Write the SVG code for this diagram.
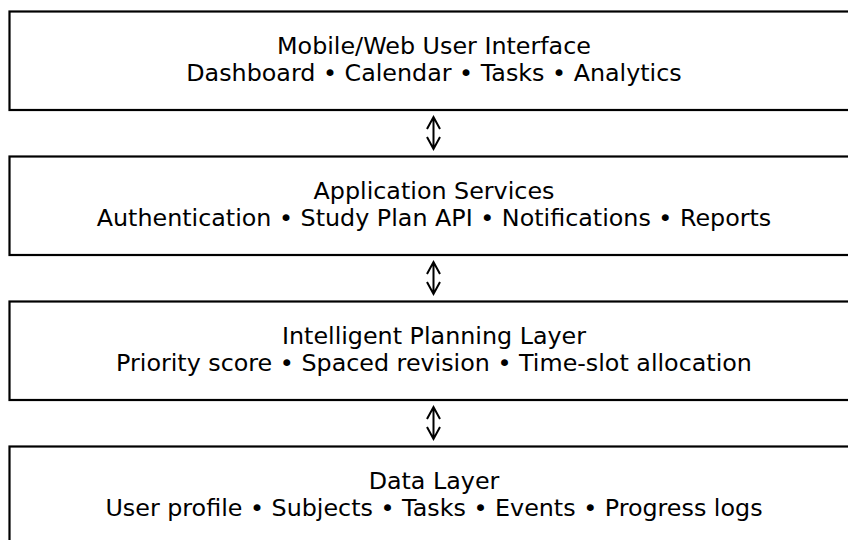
<svg xmlns="http://www.w3.org/2000/svg" width="848" height="540" viewBox="0 0 848 540">
<style>
.box{fill:#fff;stroke:#000;stroke-width:2.2}
.t{font-family:"DejaVu Sans",sans-serif;font-size:23.8px;fill:#000;text-anchor:middle}
.c{fill:none;stroke:#000;stroke-width:2;stroke-linejoin:miter}
</style>
<rect width="848" height="540" fill="#fff"/>
<g id="ui">
<rect class="box" x="9.5" y="11.5" width="860" height="98.5"/>
<text class="t" x="434" y="54">Mobile/Web User Interface</text>
<text class="t" x="434" y="81">Dashboard • Calendar • Tasks • Analytics</text>
</g>
<g id="services">
<rect class="box" x="9.5" y="156.5" width="860" height="98.5"/>
<text class="t" x="434" y="199">Application Services</text>
<text class="t" x="434" y="226">Authentication • Study Plan API • Notifications • Reports</text>
</g>
<g id="planning">
<rect class="box" x="9.5" y="301.5" width="860" height="98.5"/>
<text class="t" x="434" y="344">Intelligent Planning Layer</text>
<text class="t" x="434" y="371">Priority score • Spaced revision • Time-slot allocation</text>
</g>
<g id="data">
<rect class="box" x="9.5" y="446.5" width="860" height="120"/>
<text class="t" x="434" y="489">Data Layer</text>
<text class="t" x="434" y="516">User profile • Subjects • Tasks • Events • Progress logs</text>
</g>
<g id="connectors">
<path class="c" d="M433.5 117V149M427 129L433.5 117L440 129M427 137L433.5 149L440 137"/>
<path class="c" d="M433.5 262V294M427 274L433.5 262L440 274M427 282L433.5 294L440 282"/>
<path class="c" d="M433.5 407V439M427 419L433.5 407L440 419M427 427L433.5 439L440 427"/>
</g>
</svg>
